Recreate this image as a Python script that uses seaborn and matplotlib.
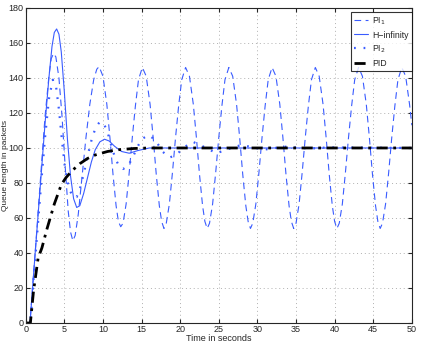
import matplotlib
matplotlib.use("Agg")
import matplotlib.pyplot as plt
import seaborn as sns
import pandas as pd

# PI_1 controller: sustained oscillation
pi1_t = [0.0, 0.55, 1.0, 1.5, 2.0, 2.5, 3.0, 3.3, 3.6, 3.9, 4.3, 4.7, 5.1, 5.5, 5.8, 6.1, 6.4, 6.8, 7.3, 7.8, 8.3, 8.8, 9.2,
         9.5, 10.0, 10.5, 10.9, 11.3, 11.7, 12.0, 12.3, 12.6, 13.0, 13.4, 13.8, 14.2, 14.6,
         15.1, 15.6, 16.1, 16.5, 16.9, 17.3, 17.6, 17.9, 18.2, 18.6, 19.0, 19.4, 19.8, 20.2,
         20.7, 21.2, 21.7, 22.1, 22.5, 22.9, 23.2, 23.5, 23.8, 24.2, 24.6, 25.0, 25.4, 25.8,
         26.3, 26.8, 27.3, 27.7, 28.1, 28.5, 28.8, 29.1, 29.4, 29.8, 30.2, 30.6, 31.0, 31.4,
         31.9, 32.4, 32.9, 33.3, 33.7, 34.1, 34.4, 34.7, 35.0, 35.4, 35.8, 36.2, 36.6, 37.0,
         37.5, 38.0, 38.5, 38.9, 39.3, 39.7, 40.0, 40.3, 40.6, 41.0, 41.4, 41.8, 42.2, 42.6,
         43.1, 43.6, 44.1, 44.5, 44.9, 45.3, 45.6, 45.9, 46.2, 46.6, 47.0, 47.4, 47.8, 48.2,
         48.7, 49.2, 49.7, 50.0]
pi1_q = [0, 0, 27, 57, 88, 118, 141, 151, 154, 152, 140, 118, 90, 64, 52, 47, 50, 62, 84, 106, 125, 139, 145,
         146.5, 141, 125, 106, 85, 67, 58, 55, 57, 68, 86, 106, 124, 139,
         146, 141, 125, 106, 85, 67, 58, 54, 57, 68, 86, 106, 124, 139,
         146, 141, 125, 106, 85, 67, 58, 54, 57, 68, 86, 106, 124, 139,
         146, 141, 125, 106, 85, 67, 58, 54, 57, 68, 86, 106, 124, 139,
         146, 141, 125, 106, 85, 67, 58, 54, 57, 68, 86, 106, 124, 139,
         146, 141, 125, 106, 85, 67, 58, 54, 57, 68, 86, 106, 124, 139,
         146, 141, 125, 106, 85, 67, 58, 54, 57, 68, 86, 106, 124, 139,
         146, 141, 125, 113]

# H-infinity controller
hinf_t = [0.0, 0.55, 1.0, 1.5, 2.0, 2.5, 3.0, 3.4, 3.7, 4.0, 4.3, 4.6, 5.0, 5.4, 5.8, 6.2, 6.6, 7.0, 7.5,
          8.0, 8.5, 9.0, 9.6, 10.2, 10.8, 11.5, 12.4, 13.4, 14.5, 16.0, 50.0]
hinf_q = [0, 0, 27, 56, 85, 114, 140, 158, 166, 168, 165, 155, 132, 105, 84, 71, 66, 67, 74,
          83, 92, 99, 103.5, 105, 104, 101, 98, 97, 98.5, 100, 100]

# PI_2 controller
pi2_t = [0.0, 0.6, 1.0, 1.5, 2.0, 2.5, 3.0, 3.5, 3.9, 4.3, 4.7, 5.1, 5.6, 6.1, 6.6, 7.1, 7.6, 8.1, 8.6,
         9.1, 9.6, 10.1, 10.6, 11.1, 11.6, 12.1, 12.6, 13.2, 13.8, 14.4, 15.0, 15.9, 16.8, 17.7,
         18.6, 19.5, 20.4, 21.6, 22.9, 24.7, 26.3, 27.9, 29.3, 30.8, 32.3, 33.8, 35.5, 37.0, 39.0, 50.0]
pi2_q = [0, 0, 24, 52, 80, 106, 128, 139, 136, 122, 104, 88, 77, 72, 72, 78, 87, 97, 106,
         112, 115, 114, 109, 101, 94, 89.5, 88, 89.5, 94, 100, 105, 107.4, 104.5, 98,
         94.5, 96, 100, 103.6, 101, 97, 99.5, 101.7, 100.5, 99, 100, 100.8, 100, 99.7, 100.3, 100]

# PID controller
pid_t = [0.0, 0.6, 1.0, 1.6, 2.1, 2.7, 3.1, 3.7, 4.6, 5.2, 6.0, 7.0, 8.0, 9.0, 10.6, 12.0, 14.0, 16.0, 50.0]
pid_q = [0, 0, 18, 37, 43, 53, 59, 68, 79, 83, 87, 91, 94, 96, 98, 99, 99.7, 100, 100]

sns.set_style("ticks")
plt.rcParams["font.family"] = ["Liberation Sans", "DejaVu Sans"]

fig = plt.figure(figsize=(4.29, 3.46), dpi=100)
ax = fig.add_axes([0.06, 0.0665, 0.90, 0.9105])

blue = "#3a5cff"
series = [
    (pi1_t, pi1_q, r"PI$_1$", dict(color=blue, lw=0.8, dashes=(6, 4))),
    (hinf_t, hinf_q, "H\u2212infinity", dict(color=blue, lw=0.8)),
    (pi2_t, pi2_q, r"PI$_2$", dict(color=blue, lw=1.6, dashes=(0.8, 3.5))),
    (pid_t, pid_q, "PID", dict(color="black", lw=2.0, dashes=(4, 2, 1, 2))),
]
for t, q, name, kw in series:
    df = pd.DataFrame({"t": t, "q": q})
    sns.lineplot(data=df, x="t", y="q", ax=ax, sort=False, estimator=None, label=name, **kw)

ax.set_xlim(0, 50)
ax.set_ylim(0, 180)
ax.set_xticks(range(0, 51, 5))
ax.set_yticks(range(0, 181, 20))
ax.grid(True, color="#b0b0b0", linestyle=(0, (1, 3)), linewidth=0.7)
ax.tick_params(direction="in", length=3, labelsize=6.5, top=True, right=True, pad=1.5)
for s in ax.spines.values():
    s.set_linewidth(0.8)
    s.set_visible(True)
ax.set_xlabel("Time in seconds", fontsize=6.5, labelpad=0)
ax.set_ylabel("Queue length in packets", fontsize=6)
ax.yaxis.set_label_coords(-0.044, 0.5)

leg = ax.legend(loc="upper right", bbox_to_anchor=(1.0, 0.987), fontsize=6.3, frameon=True,
                fancybox=False, handlelength=1.6, borderpad=0.35, labelspacing=0.45,
                handletextpad=0.5, borderaxespad=0)
leg.get_frame().set_edgecolor("black")
leg.get_frame().set_linewidth(0.8)

fig.savefig("out.png", dpi=100)
